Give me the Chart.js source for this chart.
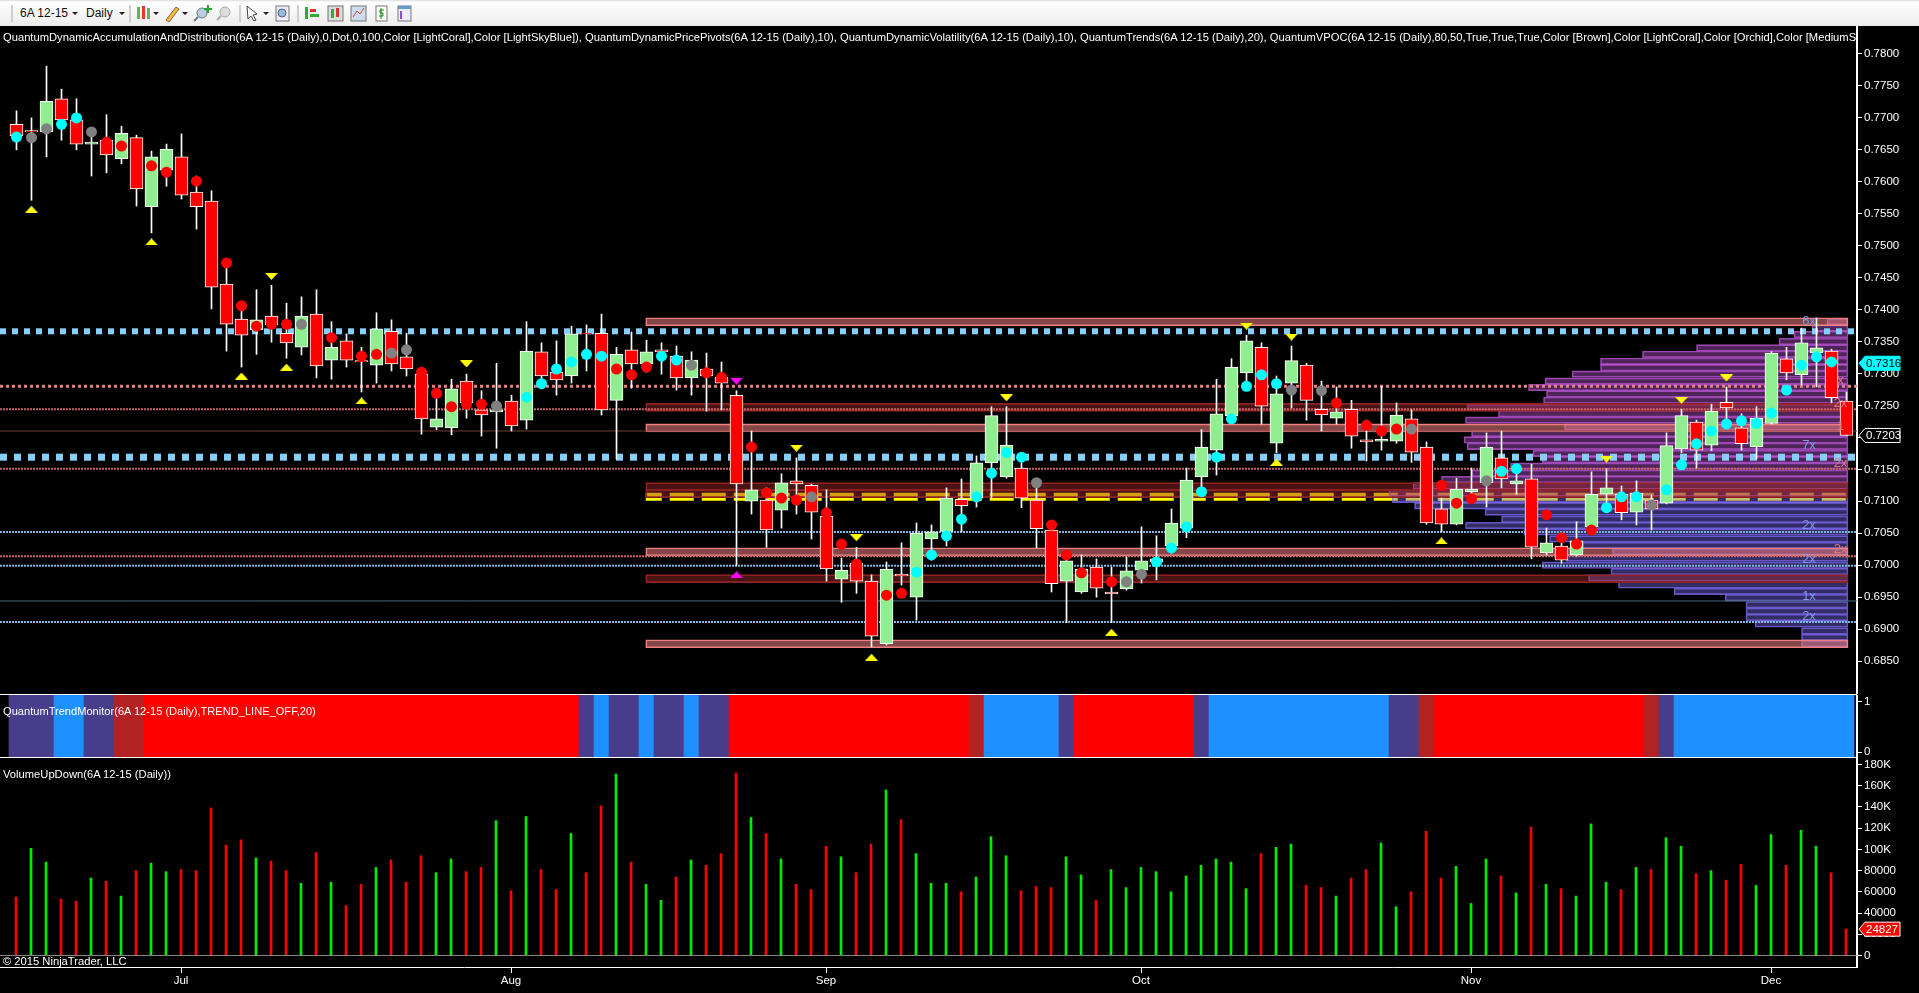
<!DOCTYPE html>
<html>
<head>
<meta charset="utf-8">
<title>6A 12-15 (Daily)</title>
<script src="https://cdn.jsdelivr.net/npm/chart.js@4"></script>
<style>
  html, body { margin: 0; background: #000; overflow: hidden; }
  #page { position: relative; width: 1919px; height: 993px; background: #000; overflow: hidden; font-family: "Liberation Sans", Arial, sans-serif; }
  canvas { position: absolute; left: 0; }
  #toolbar { position: absolute; left: 0; top: 0; width: 1919px; height: 26px; background: linear-gradient(#dcdcdc 0, #fff 2px, #ececec 100%); color: #111; font-size: 12px; }
  #toolbar span { position: absolute; top: 6px; }
  #toolbar svg { position: absolute; left: 0; top: 0; }
  .label { position: absolute; left: 3px; color: #fff; font-size: 11.2px; white-space: nowrap; overflow: hidden; z-index: 5; }
  .rule { position: absolute; left: 0; width: 1857px; height: 1px; background: #fff; z-index: 4; }
</style>
</head>
<body>
<div id="page">
  <div id="toolbar">
    <svg width="440" height="26">
      <path d="M12 5v17M130 5v17M240 5v17M298 5v17" stroke="#aaa"/>
      <path d="M72 12h6l-3 3zM119 12h6l-3 3zM153 12h6l-3 3zM182 12h6l-3 3zM263 12h6l-3 3z" fill="#222"/>
      <rect x="137" y="7" width="3" height="12" fill="#5b5"/><rect x="142" y="6" width="3" height="13" fill="#e33"/><rect x="147" y="8" width="3" height="11" fill="#5b5"/>
      <path d="M166 20l10-13 3 2-10 13z" fill="#eb3" stroke="#865"/>
      <circle cx="202" cy="13" r="5" fill="#bcd" stroke="#678"/><path d="M198 17l-4 4" stroke="#678" stroke-width="2"/><path d="M207 5h2v3h3v2h-3v3h-2v-3h-3V8h3z" fill="#2a2"/>
      <circle cx="225" cy="12" r="5" fill="#ddd" stroke="#aaa"/><path d="M221 16l-4 4" stroke="#aaa" stroke-width="2"/>
      <path d="M247 6l10 8-4 1 3 5-2 1-3-5-3 3z" fill="#fff" stroke="#444"/>
      <rect x="276" y="6" width="13" height="15" fill="#eef" stroke="#777"/><circle cx="282" cy="13" r="4" fill="#9bd" stroke="#567"/>
      <rect x="305" y="7" width="3" height="12" fill="#3a3"/><rect x="310" y="9" width="6" height="3" fill="#d33"/><rect x="310" y="14" width="9" height="3" fill="#3a3"/>
      <rect x="328" y="6" width="15" height="15" fill="#ddd" stroke="#777"/><rect x="331" y="9" width="3" height="9" fill="#3a3"/><rect x="336" y="8" width="3" height="9" fill="#d33"/>
      <rect x="351" y="6" width="15" height="15" fill="#cde" stroke="#777"/><path d="M353 17l4-6 3 3 4-6" stroke="#c44" fill="none"/>
      <rect x="376" y="6" width="11" height="15" fill="#fff" stroke="#777"/><path d="M381 8v11M384 10h-4v3h3v3h-4" stroke="#181" fill="none"/>
      <rect x="398" y="6" width="13" height="15" fill="#eef" stroke="#777"/><rect x="398" y="6" width="13" height="3" fill="#69c"/><rect x="400" y="11" width="2" height="8" fill="#85c"/>
    </svg>
    <span style="left:20px">6A 12-15</span>
    <span style="left:86px">Daily</span>
  </div>
  <div class="label" style="top:31px; width:1854px">QuantumDynamicAccumulationAndDistribution(6A 12-15 (Daily),0,Dot,0,100,Color [LightCoral],Color [LightSkyBlue]), QuantumDynamicPricePivots(6A 12-15 (Daily),10), QuantumDynamicVolatility(6A 12-15 (Daily),10), QuantumTrends(6A 12-15 (Daily),20), QuantumVPOC(6A 12-15 (Daily),80,50,True,True,True,Color [Brown],Color [LightCoral],Color [Orchid],Color [MediumSlateBlue])</div>
  <div class="label" style="top:705px; font-size:11.1px">QuantumTrendMonitor(6A 12-15 (Daily),TREND_LINE_OFF,20)</div>
  <div class="label" style="top:768px">VolumeUpDown(6A 12-15 (Daily))</div>
  <div class="label" style="top:955px">© 2015 NinjaTrader, LLC</div>
  <div class="rule" style="top:694px"></div>
  <div class="rule" style="top:757px"></div>
  <canvas id="priceChart" width="1919" height="668" style="top:26px"></canvas>
  <canvas id="trendChart" width="1919" height="62" style="top:695px"></canvas>
  <canvas id="volumeChart" width="1919" height="236" style="top:757px"></canvas>
</div>
<script>
// daily bars
const open = [
  .7690,.7680,.7678,.7730,.7697,.7659,.7665,.7636,.7669,.7561,
  .7618,.7639,.7584,.7570,.7440,.7385,.7368,.7390,.7363,.7341,
  .7393,.7321,.7351,.7320,.7313,.7366,.7326,.7299,.7216,.7215,
  .7288,.7243,.7240,.7257,.7227,.7334,.7302,.7296,.7363,.7363,
  .7258,.7337,.7315,.7337,.7327,.7293,.7307,.7294,.7266,.7100,
  .7102,.7086,.7132,.7125,.7077,.6978,.7003,.6975,.6877,.6986,
  .6950,.7041,.7053,.7103,.7105,.7160,.7138,.7152,.7102,.7055,
  .6975,.6958,.6997,.6958,.6963,.6992,.7005,.7030,.7058,.7138,
  .7180,.7234,.7301,.7341,.7191,.7285,.7313,.7244,.7230,.7244,
  .7196,.7194,.7194,.7229,.7185,.7088,.7064,.7115,.7129,.7168,
  .7127,.7135,.7019,.7030,.7016,.7060,.7111,.7111,.7083,.7102,
  .7097,.7182,.7224,.7188,.7255,.7215,.7185,.7222,.7323,.7298,
  .7332,.7335,.7257];
const close = [
  .7672,.7678,.7726,.7697,.7659,.7662,.7642,.7676,.7589,.7639,
  .7651,.7579,.7561,.7435,.7377,.7360,.7384,.7376,.7348,.7390,
  .7312,.7341,.7321,.7318,.7370,.7315,.7307,.7229,.7229,.7276,
  .7254,.7235,.7243,.7218,.7335,.7296,.7290,.7362,.7362,.7243,
  .7330,.7315,.7334,.7334,.7293,.7321,.7296,.7285,.7127,.7118,
  .7055,.7129,.7127,.7083,.6994,.6992,.6975,.6889,.6994,.6983,
  .7050,.7052,.7105,.7093,.7160,.7234,.7188,.7105,.7057,.6971,
  .7007,.6994,.6964,.6955,.6991,.7007,.7010,.7066,.7133,.7185,
  .7237,.7310,.7351,.7249,.7268,.7320,.7258,.7235,.7240,.7202,
  .7193,.7197,.7235,.7177,.7066,.7064,.7119,.7119,.7185,.7135,
  .7132,.7028,.7035,.7008,.7038,.7111,.7121,.7082,.7113,.7088,
  .7187,.7234,.7180,.7241,.7246,.7190,.7230,.7332,.7301,.7348,
  .7340,.7262,.7203];
const high = [
  .7711,.7700,.7781,.7745,.7730,.7684,.7705,.7687,.7673,.7648,
  .7659,.7675,.7609,.7586,.7473,.7412,.7431,.7438,.7410,.7420,
  .7431,.7381,.7362,.7341,.7395,.7384,.7363,.7309,.7269,.7291,
  .7299,.7273,.7316,.7266,.7381,.7348,.7351,.7374,.7376,.7393,
  .7341,.7365,.7352,.7348,.7343,.7334,.7332,.7318,.7273,.7210,
  .7121,.7143,.7168,.7127,.7118,.7011,.7028,.6985,.7005,.7035,
  .7066,.7063,.7121,.7135,.7171,.7248,.7248,.7176,.7133,.7068,
  .7019,.7016,.7010,.6997,.7013,.7060,.7046,.7088,.7152,.7212,
  .7291,.7323,.7360,.7348,.7296,.7343,.7316,.7288,.7279,.7258,
  .7227,.7280,.7254,.7243,.7193,.7105,.7136,.7152,.7207,.7210,
  .7157,.7158,.7058,.7050,.7068,.7146,.7151,.7124,.7132,.7110,
  .7207,.7244,.7227,.7252,.7279,.7237,.7248,.7334,.7341,.7371,
  .7387,.7338,.7271];
const low = [
  .7650,.7571,.7639,.7665,.7650,.7609,.7614,.7628,.7562,.7520,
  .7593,.7573,.7526,.7401,.7335,.7310,.7330,.7349,.7324,.7329,
  .7293,.7291,.7310,.7271,.7285,.7304,.7296,.7205,.7212,.7204,
  .7230,.7202,.7183,.7210,.7213,.7285,.7266,.7285,.7304,.7235,
  .7166,.7277,.7302,.7299,.7274,.7266,.7241,.7243,.6999,.7080,
  .7028,.7058,.7080,.7041,.6975,.6942,.6956,.6872,.6875,.6969,
  .6914,.7008,.7030,.7052,.7091,.7105,.7136,.7090,.7027,.6958,
  .6910,.6956,.6950,.6910,.6961,.6972,.6977,.7019,.7043,.7122,
  .7141,.7222,.7287,.7221,.7176,.7246,.7227,.7210,.7221,.7183,
  .7163,.7180,.7191,.7161,.7064,.7052,.7063,.7097,.7091,.7121,
  .7111,.7010,.7016,.7003,.7014,.7052,.7086,.7071,.7063,.7055,
  .7096,.7176,.7152,.7179,.7216,.7180,.7166,.7221,.7290,.7282,
  .7279,.7254,.7203];

// accumulation/distribution dots: c cyan, r red, g grey, - none
const dotKind = "cggccgrr-r" + "r-r-rrrrrg" + "-r-rrggrrr" + "rrg-cccccc" + "rrrccgrr-r" +
                "rrrgrrr-rr" + "ccccccccgr" + "rr-rggcccc" + "cccccg-gr-" + "rrrg-rrrgc" +
                "c-rrrrcccg" + "cccccccccc" + "cc-";
const dotPrice = [
  .7670,.7669,.7683,.7690,.7700,.7678,.7662,.7656,null,.7625,
  .7615,null,.7601,null,.7473,.7406,.7374,.7377,.7377,.7377,
  null,.7356,null,.7327,.7330,.7332,.7337,.7302,.7269,.7248,
  .7252,.7252,.7249,null,.7263,.7284,.7307,.7318,.7330,.7327,
  .7307,.7298,.7310,.7327,.7321,.7313,.7301,.7294,null,.7185,
  .7113,.7105,.7102,.7107,.7082,.7033,.7002,null,.6953,.6956,
  .6989,.7016,.7046,.7072,.7107,.7144,.7176,.7169,.7129,.7063,
  .7016,.6988,null,.6974,.6974,.6986,.7005,.7027,.7060,.7115,
  .7169,.7229,.7280,.7298,.7284,.7274,null,.7273,.7254,null,
  .7219,.7210,.7213,.7213,null,.7125,.7097,.7104,.7132,.7147,
  .7151,null,.7079,.7043,.7033,.7055,.7090,.7107,.7107,.7094,
  .7118,.7157,.7190,.7210,.7221,.7226,.7222,.7238,.7274,.7313,
  .7326,.7318,null];

// pivot triangles as [bar, price]
const pivotUp = [[1,.7557],[9,.7506],[15,.7296],[18,.7310],[23,.7257],[57,.6856],[73,.6895],[84,.7161],[95,.7038]];
const pivotDown = [[17,.7452],[30,.7315],[52,.7183],[56,.7043],[66,.7262],[82,.7374],[85,.7357],[106,.7166],[111,.7258],[114,.7293]];
const pivotMagentaUp = [[48,.6985]];
const pivotMagentaDown = [[48,.7288]];

// price levels
const heavyBlueLevels = [.7366, .7169];
const heavyCoralLevels = [.7280];
const fineCoralLevels = [.7244, .7151, .7014];
const fineBlueLevels = [.7052, .6999, .6911];
const thinBrownLevels = [.7210];
const thinBlueLevels = [.6944];
const vpocLevels = [.7107];
const coralZones = [.7381, .7215, .7021, .6877];
const brownZones = [.7247, .7123, .7112, .6979];
const zoneFirstBar = 41.95;
const zoneLastBar = 122.1;

// volume at price, width in bars
const profilePrice = [
  .7381,.7371,.7361,.7350,.7340,.7330,.7319,.7309,.7299,.7288,
  .7278,.7268,.7258,.7247,.7237,.7227,.7216,.7206,.7196,.7186,
  .7175,.7165,.7155,.7144,.7134,.7124,.7113];
const profileWidth = [
  1.4,2.4,3.6,4.6,10.1,13.7,16.5,16.5,18.4,20.2,
  21.3,20.1,20.3,25.4,23.3,25.5,18.9,25.1,25.6,25.4,
  21,20.4,22.5,25.1,27.1,29,30.6];
const profileLowPrice = [
  .7103,.7093,.7083,.7072,.7062,.7052,.7041,.7031,.7021,.7011,
  .7000,.6990,.6980,.6969,.6959,.6949,.6938,.6928,.6918,.6908,
  .6897,.6887,.6877];
const profileLowWidth = [
  30.4,28.9,24.2,23.1,25.5,21.6,19.9,17.7,15.7,18.8,
  20.4,15.8,17.3,15.3,11.6,8.2,6.8,6.8,6.8,6.2,
  3.1,3.1,3.1];
const profileBlueLabels = [["6x",.7381],["7x",.7187],["2x",.7062],["2x",.7009],["1x",.6951],["2x",.6920]];
const profileCoralLabels = [["x",.7289],["2x",.7253],["1",.7217],["2x",.7159],["2x",.7024]];

// trend monitor, as runs of bars
const trendNames = ["slate","blue","slate","brick","red","slate","blue","slate","blue","slate","blue","slate","red","brick","blue","slate","red","slate","blue","slate","brick","red","brick","slate","blue"];
const trendLengths = [3,2,2,2,29,1,1,2,1,2,1,2,16,1,5,1,8,1,12,2,1,14,1,1,12];

const volume = [
  55000,101000,88000,53000,51000,73000,70000,56000,80000,87000,
  79000,81000,80000,139000,104000,109000,92000,89000,80000,68000,
  97000,69000,47000,67000,83000,90000,69000,94000,78000,91000,
  79000,83000,127000,61000,131000,81000,62000,115000,78000,141000,
  171000,88000,67000,52000,74000,90000,85000,96000,172000,130000,
  115000,91000,67000,62000,103000,93000,78000,105000,156000,128000,
  96000,68000,68000,60000,74000,112000,94000,61000,65000,64000,
  93000,76000,52000,81000,64000,83000,79000,60000,75000,85000,
  91000,88000,63000,96000,102000,105000,66000,64000,56000,73000,
  81000,106000,46000,60000,117000,73000,84000,49000,91000,75000,
  59000,121000,67000,63000,56000,124000,69000,62000,83000,81000,
  111000,103000,77000,80000,71000,86000,66000,114000,85000,118000,
  103000,78000,24827];
const volumeSide = "duuddududu" + "uddddduddu" + "dudduddduu" + "ddududdudd" + "uduududddu" +
                   "duddduddud" + "uuuduuuddd" + "uuduuuuuuu" + "uuuduuddud" + "duuddduuud" +
                   "ududuuudud" + "uududduudu" + "udd";

const priceTicks = [.78,.775,.77,.765,.76,.755,.75,.745,.74,.735,.73,.725,.72,.715,.71,.705,.70,.695,.69,.685];
const trendTicks = [1, 0];
const volumeTicks = [180000,160000,140000,120000,100000,80000,60000,40000,20000,0];
const monthBars = [11, 33, 54, 75, 97, 117];
const monthNames = ["Jul", "Aug", "Sep", "Oct", "Nov", "Dec"];

const lastPrice = .7316;
const lastClose = .7203;
const lastVolume = 24827;

const tickFont = { family: "'Liberation Sans', Arial, sans-serif", size: 11.5 };
const xMin = -1.1, xMax = 122.7;
const bars = open.map((_, i) => i);

function fitY(scale) {
  scale.width = 62;
  scale.paddingTop = 0;
  scale.paddingBottom = 0;
}

function yScale(min, max, ticks, format) {
  return {
    position: "right", min, max, offset: false,
    afterFit: fitY,
    afterBuildTicks: (scale) => { scale.ticks = ticks.map((value) => ({ value })); },
    border: { color: "#fff", width: 2 },
    grid: { offset: false, drawOnChartArea: false, color: "#fff", tickLength: 5 },
    ticks: { color: "#fff", font: tickFont, padding: 2, autoSkip: false, callback: format },
  };
}

function hiddenX() {
  return { type: "linear", display: false, offset: false, min: xMin, max: xMax };
}

function triangle(color, up) {
  const c = document.createElement("canvas");
  c.width = 13; c.height = 7;
  const ctx = c.getContext("2d");
  ctx.fillStyle = color;
  ctx.beginPath();
  if (up) { ctx.moveTo(6.5, 0); ctx.lineTo(13, 7); ctx.lineTo(0, 7); }
  else { ctx.moveTo(0, 0); ctx.lineTo(13, 0); ctx.lineTo(6.5, 7); }
  ctx.closePath();
  ctx.fill();
  return c;
}

// horizontal rule across the price panel
function level(price, style, from = xMin, to = xMax) {
  return Object.assign({
    type: "line", pointRadius: 0, fill: false, tension: 0,
    data: [{ x: from, y: price }, { x: to, y: price }],
  }, style);
}

function pivots(list, image) {
  return {
    type: "scatter", order: 0, pointStyle: image, pointRadius: 7,
    data: list.map(([x, y]) => ({ x, y })),
  };
}

function horizontalBars(prices, widths, style) {
  return Object.assign({
    type: "bar", indexAxis: "y", grouped: false, borderSkipped: false, borderWidth: 1,
    data: prices.map((y, i) => ({ y, x: [zoneLastBar - widths[i], zoneLastBar] })),
  }, style);
}

function zoneBars(prices, style) {
  return Object.assign({
    type: "bar", indexAxis: "y", grouped: false, borderSkipped: false, borderWidth: 1, barThickness: 8,
    data: prices.map((y) => ({ y, x: [zoneFirstBar, zoneLastBar] })),
  }, style);
}

const dotColors = { c: "#00ffff", r: "#ff0000", g: "#808080" };
const heavyBlue = { borderColor: "#87cefa", order: 4 };

const priceDatasets = [
  // candles
  { type: "scatter", order: 0, pointRadius: 5.5, borderWidth: 0,
    backgroundColor: bars.map((i) => dotColors[dotKind[i]] || "transparent"),
    data: bars.map((i) => ({ x: i, y: dotPrice[i] })) },
  pivots(pivotUp, triangle("#ffff00", true)),
  pivots(pivotDown, triangle("#ffff00", false)),
  pivots(pivotMagentaUp, triangle("#ff00ff", true)),
  pivots(pivotMagentaDown, triangle("#ff00ff", false)),
  { type: "bar", order: 1, grouped: false, barThickness: 13, borderWidth: 1, borderColor: "#fff", borderSkipped: false,
    backgroundColor: bars.map((i) => (close[i] >= open[i] ? "#90ee90" : "#ff0000")),
    data: bars.map((i) => ({ x: i, y: [open[i], close[i]] })) },
  { type: "bar", order: 2, grouped: false, barThickness: 1, backgroundColor: "#fff",
    data: bars.map((i) => ({ x: i, y: [low[i], high[i]] })) },
  // levels
  ...heavyBlueLevels.map((p, i) => level(p, Object.assign({}, heavyBlue,
    i === 0 ? { borderWidth: 6, borderDash: [6, 6] } : { borderWidth: 7, borderDash: [7, 7] }))),
  ...heavyCoralLevels.map((p) => level(p, { order: 4, borderColor: "#e88080", borderWidth: 3, borderDash: [3, 3] })),
  ...fineCoralLevels.map((p) => level(p, { order: 4, borderColor: "#c86464", borderWidth: 2, borderDash: [2, 1] })),
  ...fineBlueLevels.map((p) => level(p, { order: 4, borderColor: "#7fb8de", borderWidth: 2, borderDash: [2, 1] })),
  ...thinBrownLevels.map((p) => level(p, { order: 4, borderColor: "#7a3b3b", borderWidth: 1 })),
  ...thinBlueLevels.map((p) => level(p, { order: 4, borderColor: "#466a80", borderWidth: 1 })),
  // zones and profile, the vpoc line sits under them
  zoneBars(coralZones, { order: 5, backgroundColor: "rgba(240,128,128,0.55)", borderColor: "#f08080" }),
  zoneBars(brownZones, { order: 5, backgroundColor: "rgba(165,42,42,0.45)", borderColor: "#8b2020" }),
  horizontalBars(profilePrice, profileWidth, { order: 6, barThickness: 6.6, backgroundColor: "rgba(186,85,211,0.42)", borderColor: "rgba(186,85,211,0.8)" }),
  horizontalBars(profileLowPrice, profileLowWidth, { order: 6, barThickness: 6.6, backgroundColor: "rgba(123,104,238,0.42)", borderColor: "rgba(123,104,238,0.8)" }),
  ...vpocLevels.map((p) => level(p, { order: 7, borderColor: "#ffff00", borderWidth: 8, borderDash: [24, 8], borderDashOffset: 8 }, zoneFirstBar, zoneLastBar)),
];

function tag(ctx, x, y, text, fill, stroke, ink) {
  ctx.save();
  ctx.beginPath();
  ctx.moveTo(x, y);
  ctx.lineTo(x + 6, y - 7);
  ctx.lineTo(x + 41, y - 7);
  ctx.lineTo(x + 41, y + 7);
  ctx.lineTo(x + 6, y + 7);
  ctx.closePath();
  ctx.fillStyle = fill;
  ctx.fill();
  ctx.strokeStyle = stroke;
  ctx.stroke();
  ctx.fillStyle = ink;
  ctx.font = "11.5px 'Liberation Sans', Arial, sans-serif";
  ctx.textBaseline = "middle";
  ctx.fillText(text, x + 7, y + 0.5);
  ctx.restore();
}

const priceOverlay = {
  id: "priceOverlay",
  afterDraw(chart) {
    const { ctx, scales: { x, y } } = chart;
    ctx.save();
    ctx.font = "13px 'Liberation Sans', Arial, sans-serif";
    ctx.textAlign = "center";
    ctx.textBaseline = "middle";
    ctx.fillStyle = "#7f9ae8";
    profileBlueLabels.forEach(([text, p]) => ctx.fillText(text, x.getPixelForValue(119.5), y.getPixelForValue(p)));
    ctx.fillStyle = "#e07878";
    profileCoralLabels.forEach(([text, p]) => ctx.fillText(text, x.getPixelForValue(121.6), y.getPixelForValue(p)));
    ctx.restore();
    tag(ctx, 1859, y.getPixelForValue(lastPrice), lastPrice.toFixed(4), "#00ffff", "#00ffff", "#000");
    tag(ctx, 1859, y.getPixelForValue(lastClose), lastClose.toFixed(4), "#000", "#fff", "#fff");
  },
};

const volumeOverlay = {
  id: "volumeOverlay",
  afterDraw(chart) {
    tag(chart.ctx, 1859, chart.scales.y.getPixelForValue(lastVolume), String(lastVolume), "#ff0000", "#fff", "#fff");
  },
};

const sharedOptions = {
  responsive: false,
  animation: false,
  devicePixelRatio: 1,
  events: [],
  layout: { padding: 0, autoPadding: false },
  plugins: { legend: { display: false }, tooltip: { enabled: false } },
};

new Chart(document.getElementById("priceChart"), {
  type: "bar",
  data: { datasets: priceDatasets },
  options: Object.assign({}, sharedOptions, {
    scales: {
      x: hiddenX(),
      y: yScale(.67984, .78438, priceTicks, (v) => v.toFixed(4)),
    },
  }),
  plugins: [priceOverlay],
});

const trendColors = { slate: "#483d8b", blue: "#1e90ff", brick: "#b22222", red: "#ff0000" };
const trendBars = [];
trendNames.forEach((name, run) => {
  for (let n = 0; n < trendLengths[run]; n++) trendBars.push(trendColors[name]);
});

new Chart(document.getElementById("trendChart"), {
  type: "bar",
  data: {
    datasets: [{
      grouped: false, barThickness: 15, backgroundColor: trendBars,
      data: bars.map((i) => ({ x: i, y: [-0.1, 1.14] })),
    }],
  },
  options: Object.assign({}, sharedOptions, {
    scales: {
      x: hiddenX(),
      y: yScale(-0.1, 1.14, trendTicks, (v) => String(v)),
    },
  }),
});

new Chart(document.getElementById("volumeChart"), {
  type: "bar",
  data: {
    datasets: [
      { type: "line", order: 0, pointRadius: 0, borderColor: "#888", borderWidth: 1,
        data: [{ x: -1.0667, y: 0 }, { x: 122.7333, y: 0 }] },
      { type: "bar", order: 1, grouped: false, barThickness: 2,
        backgroundColor: bars.map((i) => (volumeSide[i] === "u" ? "#00ee00" : "#ff0000")),
        data: bars.map((i) => ({ x: i, y: volume[i] })) },
    ],
  },
  options: Object.assign({}, sharedOptions, {
    scales: {
      x: {
        type: "linear", min: -1.0667, max: 122.7333, offset: false,
        afterFit: (scale) => { scale.height = 26; scale.paddingLeft = 0; scale.paddingRight = 0; },
        afterBuildTicks: (scale) => { scale.ticks = monthBars.map((value) => ({ value })); },
        border: { color: "#fff" },
        grid: { offset: false, drawOnChartArea: false, color: "#fff", tickLength: 6 },
        ticks: { color: "#fff", font: tickFont, padding: 1, maxRotation: 0, autoSkip: false,
          callback: (v, i) => monthNames[i] },
      },
      y: yScale(-10840, 187070, volumeTicks, (v) => (v >= 100000 ? v / 1000 + "K" : String(v))),
    },
  }),
  plugins: [volumeOverlay],
});
</script>
</body>
</html>
